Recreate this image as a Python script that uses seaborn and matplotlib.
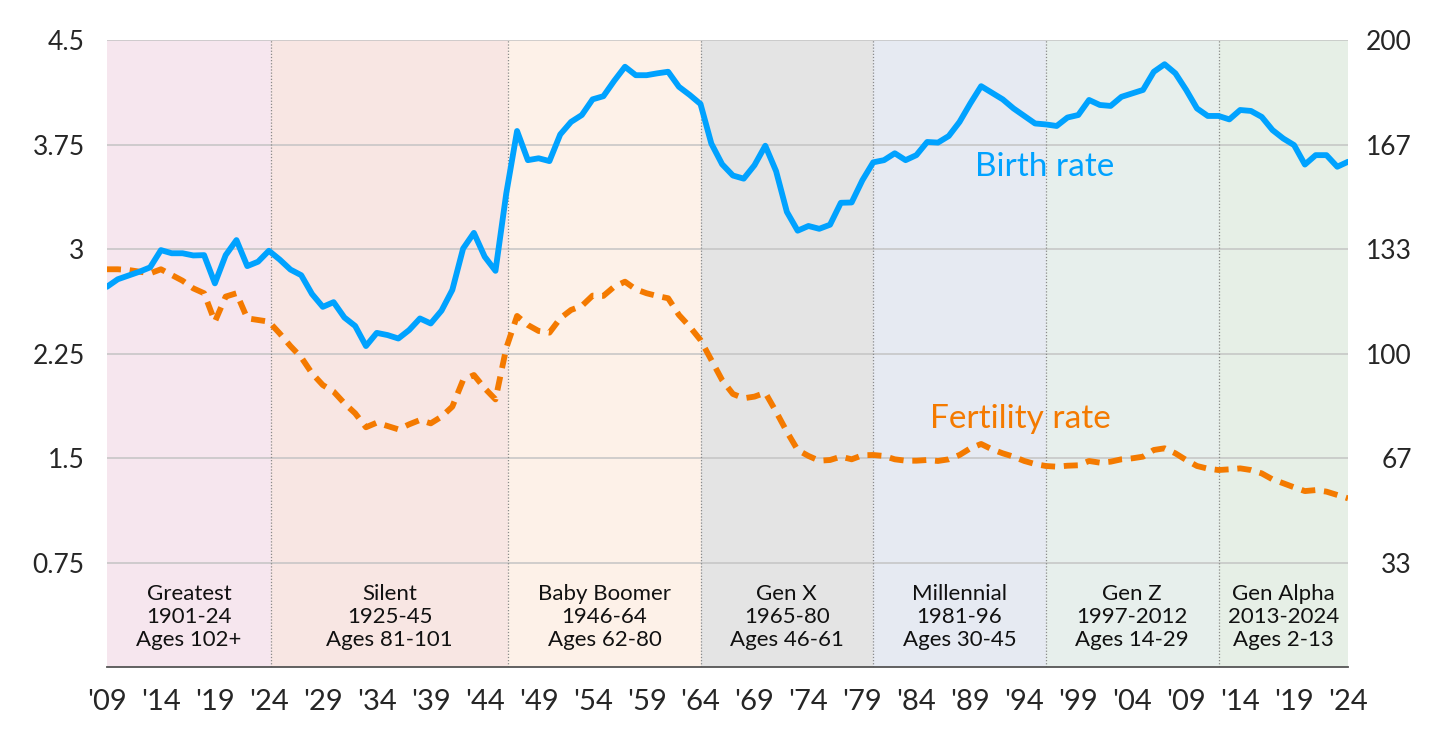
import numpy as np
import pandas as pd
import matplotlib
matplotlib.use("Agg")
import matplotlib.pyplot as plt
import seaborn as sns

years = list(range(1909, 2025))

# births per 1,000 women (right axis)
birth_rate = [
    121.3, 123.7, 124.9, 126.1, 127.5, 133.0, 132.0, 132.0, 131.3, 131.4,
    122.4, 131.4, 136.2, 127.9, 129.3, 132.8, 130.0, 126.8, 125.0, 119.0,
    114.9, 116.4, 111.5, 108.8, 102.4, 106.6, 105.9, 104.8, 107.5, 111.2,
    109.6, 113.7, 120.3, 133.5, 138.5, 130.9, 126.4, 151.1, 171.0, 161.7,
    162.3, 161.4, 169.9, 173.9, 176.1, 181.1, 182.1, 187.0, 191.5, 188.8,
    188.8, 189.4, 189.9, 185.1, 182.5, 179.6, 167.0, 160.4, 156.8, 155.8,
    160.1, 166.3, 158.2, 145.2, 139.2, 140.7, 139.8, 141.1, 148.1, 148.2,
    155.3, 161.0, 161.7, 163.9, 161.7, 163.3, 167.5, 167.3, 169.4, 173.9,
    179.8, 185.3, 183.2, 181.1, 178.2, 175.8, 173.4, 173.1, 172.6, 175.3,
    176.1, 180.9, 179.3, 179.0, 181.9, 183.0, 184.1, 189.9, 192.3, 189.4,
    184.1, 178.2, 175.8, 175.8, 174.7, 177.7, 177.4, 175.5, 171.3, 168.6,
    166.5, 160.3, 163.3, 163.3, 159.6, 161.2,
]

# total fertility rate (left axis)
fertility_rate = [
    2.855, 2.855, 2.850, 2.838, 2.826, 2.855, 2.814, 2.773, 2.718, 2.683,
    2.479, 2.659, 2.683, 2.503, 2.491, 2.479, 2.395, 2.304, 2.223, 2.108,
    2.024, 1.977, 1.893, 1.821, 1.721, 1.754, 1.730, 1.706, 1.742, 1.773,
    1.749, 1.797, 1.869, 2.060, 2.096, 2.001, 1.921, 2.290, 2.520, 2.455,
    2.412, 2.400, 2.503, 2.563, 2.592, 2.666, 2.664, 2.730, 2.766, 2.711,
    2.683, 2.663, 2.647, 2.527, 2.443, 2.347, 2.204, 2.060, 1.960, 1.929,
    1.941, 1.969, 1.833, 1.689, 1.558, 1.515, 1.481, 1.486, 1.510, 1.491,
    1.520, 1.522, 1.515, 1.491, 1.481, 1.481, 1.486, 1.479, 1.491, 1.522,
    1.570, 1.601, 1.563, 1.534, 1.510, 1.479, 1.457, 1.443, 1.438, 1.445,
    1.448, 1.479, 1.467, 1.474, 1.491, 1.498, 1.510, 1.558, 1.570, 1.534,
    1.486, 1.443, 1.424, 1.414, 1.419, 1.426, 1.414, 1.390, 1.347, 1.319,
    1.290, 1.263, 1.270, 1.259, 1.235, 1.211,
]

generations = ["Greatest", "Silent", "Baby Boomer", "Gen X", "Millennial", "Gen Z", "Gen Alpha"]
gen_years = ["1901-24", "1925-45", "1946-64", "1965-80", "1981-96", "1997-2012", "2013-2024"]
gen_ages = ["Ages 102+", "Ages 81-101", "Ages 62-80", "Ages 46-61", "Ages 30-45", "Ages 14-29", "Ages 2-13"]
gen_edges = [1909, 1924.2, 1946.2, 1964, 1980, 1996, 2012, 2024]
gen_colors = ["#F6E6EE", "#F8E6E3", "#FDF1E8", "#E4E4E4", "#E6EAF2", "#E7EFEC", "#E6EFE6"]

left_ticks = [0.75, 1.5, 2.25, 3, 3.75, 4.5]
right_ticks = [200 / 6 * i for i in range(1, 7)]
right_labels = ["33", "67", "100", "133", "167", "200"]

BLUE = "#00A2FF"
ORANGE = "#F47A00"

df = pd.DataFrame({"year": years, "birth": birth_rate, "fertility": fertility_rate})

sns.set_style("white")
plt.rcParams["font.family"] = ["Lato", "DejaVu Sans"]

fig = plt.figure(figsize=(14.3, 7.29), dpi=100)
ax = fig.add_axes([0.0748, 0.085, 0.8679, 0.860])
ax2 = ax.twinx()

# generation bands
for i, name in enumerate(generations):
    lo, hi = gen_edges[i], gen_edges[i + 1]
    ax.axvspan(lo, hi, color=gen_colors[i], lw=0, zorder=0)
    ax.text((lo + hi) / 2, 0.080, f"{name}\n{gen_years[i]}\n{gen_ages[i]}",
            transform=ax.get_xaxis_transform(), ha="center", va="center",
            fontsize=16, color="#111111", linespacing=1.17, zorder=3)
for edge in gen_edges[1:-1]:
    ax.axvline(edge, color="#8a8a8a", lw=0.9, linestyle=(0, (1, 1.5)), zorder=1)

sns.lineplot(data=df, x="year", y="fertility", ax=ax, color=ORANGE, linewidth=4.2,
             linestyle=(0, (2.4, 1.5)), zorder=4)
sns.lineplot(data=df, x="year", y="birth", ax=ax2, color=BLUE, linewidth=4.2, zorder=4)

ax.set_xlim(1909, 2024)
ax.set_ylim(0, 4.5)
ax2.set_ylim(0, 200)

ax.set_yticks(left_ticks)
ax.set_yticklabels([f"{t:g}" for t in left_ticks])
ax2.set_yticks(right_ticks)
ax2.set_yticklabels(right_labels)

major = list(range(1909, 2025, 5))
ax.set_xticks(major)
ax.set_xticklabels([f"'{y % 100:02d}" for y in major])
ax.set_xticks(years, minor=True)

ax.set_axisbelow(True)
ax.grid(axis="y", color="#c4c4c4", lw=1.1)
ax.grid(axis="x", visible=False)
ax2.grid(False)

ax.set_xlabel("")
ax.set_ylabel("")
ax2.set_ylabel("")

for s in ["top", "left", "right"]:
    ax.spines[s].set_visible(False)
for s in ax2.spines.values():
    s.set_visible(False)
ax.spines["bottom"].set_color("#555555")
ax.spines["bottom"].set_linewidth(1.3)

ax.tick_params(axis="x", which="both", direction="inout", length=5, width=1,
               color="#555555", labelsize=21, pad=13)
ax.tick_params(axis="y", length=0, labelsize=19, pad=16)
ax2.tick_params(axis="y", length=0, labelsize=19, pad=46)
for lbl in ax2.get_yticklabels():
    lbl.set_horizontalalignment("right")

ax.text(1995.9, 3.59, "Birth rate", color=BLUE, fontsize=24, ha="center", va="center", zorder=5)
ax.text(1993.6, 1.78, "Fertility rate", color=ORANGE, fontsize=24, ha="center", va="center", zorder=5)

fig.savefig("out.png", dpi=100)
